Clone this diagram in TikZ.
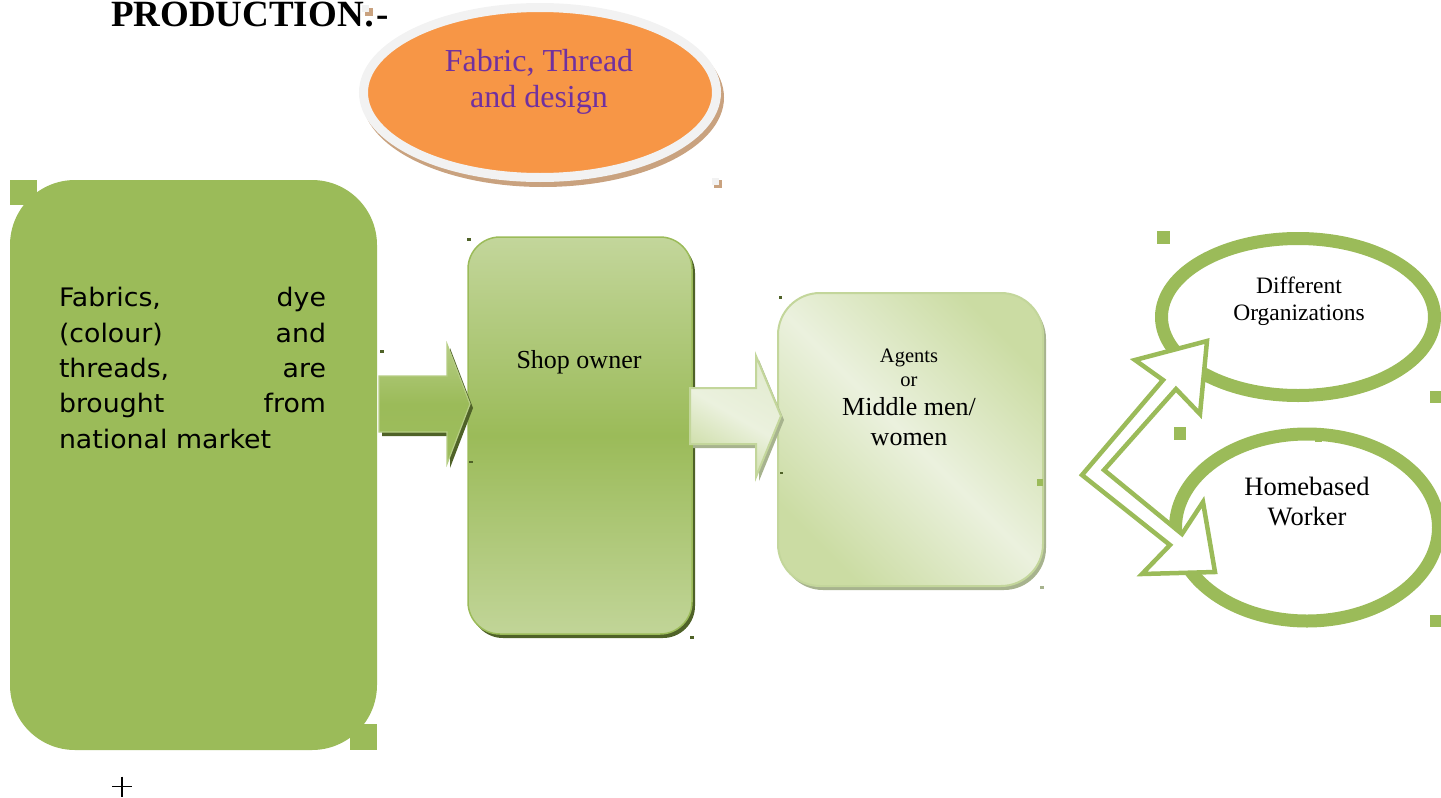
\documentclass[tikz,border=0pt]{standalone}
\usepackage{fontspec}
\setmainfont{Liberation Serif}
\newfontfamily\labelsans[FakeStretch=1.05]{DejaVu Sans}
\usetikzlibrary{calc,shapes.geometric,shadows}

\definecolor{leaf}{HTML}{9BBB59}
\definecolor{leafdark}{HTML}{4F6228}
\definecolor{leaflight}{HTML}{C3D69B}
\definecolor{leafsoft}{HTML}{B6CD84}
\definecolor{leafpale}{HTML}{EBF1DE}
\definecolor{leafmist}{HTML}{CBDCA3}
\definecolor{leafgrey}{HTML}{A7B38E}
\definecolor{tangerine}{HTML}{F79646}
\definecolor{rim}{HTML}{F2F2F2}
\definecolor{rimshadow}{HTML}{C9A27F}
\definecolor{plum}{HTML}{7030A0}

\begin{document}
\begin{tikzpicture}[x=1pt,y=-1pt,
  every node/.style={inner sep=0pt, outer sep=0pt},
  txt/.style={anchor=base, text=black},
  handle/.style={fill=leaf},
  speck/.style={fill=leafdark},
  shopbox/.style={rectangle, rounded corners=32pt, draw=leaf, line width=1.5pt,
    top color=leaflight, bottom color=leaflight!95!leaf, middle color=leaf,
    drop shadow={shadow xshift=3pt, shadow yshift=-4pt, fill=leafdark, opacity=1}},
  agentbox/.style={rectangle, rounded corners=42pt, draw=leaflight, line width=2pt,
    top color=leafmist, bottom color=leafmist, middle color=leafpale, shading angle=-45,
    drop shadow={shadow xshift=3pt, shadow yshift=-4pt, fill=leafgrey, opacity=1}},
  darkarrow/.style={draw=leafsoft, line width=1.2pt, line join=miter,
    top color=leafsoft, bottom color=leaf!90!leafsoft, middle color=leaf,
    drop shadow={shadow xshift=3pt, shadow yshift=-4pt, fill=leafdark, opacity=1}},
  palearrow/.style={draw=leaflight, line width=2pt, line join=miter,
    top color=leafpale!80!leaflight, bottom color=leafmist, middle color=leafpale, shading angle=-30,
    drop shadow={shadow xshift=3pt, shadow yshift=-4pt, fill=leafgrey, opacity=1}},
  ring/.style={ellipse, draw=leaf, line width=13pt},
  outlinearrow/.style={draw=leaf, fill=white, line width=4.5pt, line join=miter}
]
\useasboundingbox (0,0) rectangle (1441,798);

% heading
\node[anchor=base west, font=\bfseries\fontsize{37}{40}\selectfont] (title) at (111,26) {PRODUCTION:-};
\fill[rimshadow] (365,8) rectangle (373,16);
\fill[rim] (362,5) rectangle (369,12);

% orange ellipse with rim and shadow
\coordinate (fabc) at (540,92.5);
\fill[rimshadow] ($(fabc)+(3,5)$) ellipse [x radius=181, y radius=89.5];
\node[ellipse, fill=tangerine, draw=rim, line width=9pt,
      minimum width=353pt, minimum height=170pt] (fabric) at (fabc) {};
\node[txt, text=plum, font=\fontsize{32}{36}\selectfont] (fabric1) at (539,71) {Fabric, Thread};
\node[txt, text=plum, font=\fontsize{32}{36}\selectfont] (fabric2) at (539,107) {and design};
\fill[rimshadow] (714,180) rectangle (722,188);
\fill[rim] (712,178) rectangle (719,185);

% source block
\node[rectangle, rounded corners=65pt, fill=leaf, minimum width=367pt, minimum height=570pt]
  (src) at (193.5,465) {};
\fill[handle] (10,180) rectangle (37,205);
\fill[handle] (350,724) rectangle (377,750);
\node[anchor=north west, text width=267pt, align=left,
      font=\labelsans\fontsize{25.5}{35.3}\selectfont] (srctext) at (59,287.5)
  {Fabrics,\hfill dye\\(colour)\hfill and\\threads,\hfill are\\brought\hfill from\\national market};

% shop owner block
\node[shopbox, minimum width=224pt, minimum height=397pt] (shop) at (580,435.5) {};
\node[txt, font=\fontsize{26}{30}\selectfont] (shoptxt) at (579,368) {Shop owner};

% agents block
\node[agentbox, minimum width=265pt, minimum height=293pt] (agents) at (910.5,439.5) {};
\node[txt, font=\fontsize{20.5}{24}\selectfont] (ag1) at (909,362) {Agents};
\node[txt, font=\fontsize{20.5}{24}\selectfont] (ag2) at (909,386) {or};
\node[txt, font=\fontsize{26}{30}\selectfont] (ag3) at (909,415) {Middle men/};
\node[txt, font=\fontsize{26}{30}\selectfont] (ag4) at (909,445) {women};

% block arrows between the blocks
\path[darkarrow] (379,376) -- (447,376) -- (447,344) -- (470,404)
  -- (447,464) -- (447,432) -- (379,432) -- cycle;
\path[palearrow] (690,388) -- (756,388) -- (756,356) -- (781,416)
  -- (756,477) -- (756,444) -- (690,444) -- cycle;

% destination ellipses
\node[ring, minimum width=273pt, minimum height=157pt] (org) at (1298,317) {};
\node[ring, minimum width=263pt, minimum height=187pt] (home) at (1307,527.5) {};
\node[txt, font=\fontsize{23.5}{27}\selectfont] (org1) at (1299,293) {Different};
\node[txt, font=\fontsize{23.5}{27}\selectfont] (org2) at (1299,320) {Organizations};
\node[txt, font=\fontsize{26.5}{30}\selectfont] (home1) at (1307,495) {Homebased};
\node[txt, font=\fontsize{26.5}{30}\selectfont] (home2) at (1307,525) {Worker};

% forked outline arrow towards both ellipses
\path[outlinearrow] (1082,475) -- (1163,380) -- (1135,360) -- (1207,341)
  -- (1200,414) -- (1176,389) -- (1104,470) -- (1182,534) -- (1203,502)
  -- (1215,572) -- (1142,574) -- (1170,545) -- cycle;

% sizing handles
\fill[handle] (1157,231) rectangle (1170,244);
\fill[handle] (1174,427) rectangle (1186,440);
\fill[handle] (1430,391) rectangle (1441,403);
\fill[handle] (1430,615) rectangle (1441,627);
\fill[handle] (1315,436) rectangle (1322,442);
\fill[handle] (1037,479) rectangle (1043,486);
\fill[speck] (467,238) rectangle (471,241);
\fill[speck] (380,350) rectangle (384,353);
\fill[speck] (469,461) rectangle (473,463);
\fill[speck] (690,636) rectangle (694,639);
\fill[speck] (779,296) rectangle (782,299);
\fill[speck] (780,472) rectangle (783,474);
\fill[leafgrey] (1040,586) rectangle (1044,589);

% cross mark
\coordinate (crossc) at (122,786.5);
\draw[line width=1.3pt] ($(crossc)+(-10,0)$) -- ($(crossc)+(10,0)$);
\draw[line width=1.3pt] ($(crossc)+(0,-10)$) -- ($(crossc)+(0,10)$);
\end{tikzpicture}
\end{document}
